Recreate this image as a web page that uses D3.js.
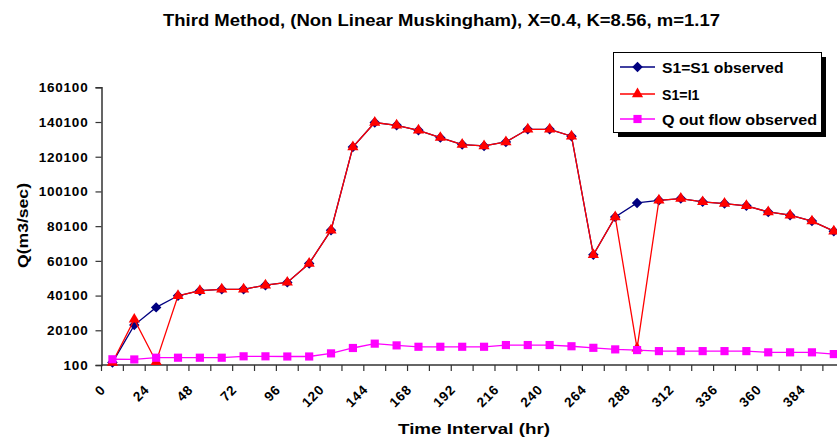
<!DOCTYPE html>
<html><head><meta charset="utf-8">
<script src="https://cdn.jsdelivr.net/npm/d3@7"></script>
<style>body{margin:0;background:#fff}svg{display:block;font-family:"Liberation Sans",Arial,sans-serif}</style>
</head><body><svg id="c" width="837" height="442"></svg>
<script>
const hours = [0,12,24,36,48,60,72,84,96,108,120,132,144,156,168,180,192,204,216,228,240,252,264,276,288,300,312,324,336,348,360,372,384,396];
const tickLabels = [0,24,48,72,96,120,144,168,192,216,240,264,288,312,336,360,384];
const yTicks = [100,20100,40100,60100,80100,100100,120100,140100,160100];
const s1Observed = [1500,23100,33300,40000,42900,43700,43700,46100,47700,58600,77800,125700,139800,138200,135300,131100,127100,126300,128600,135900,135900,131900,63600,85400,93500,95000,96000,94100,93100,91800,88300,86400,83000,77200];
const s1I1 = [1500,26400,2000,40000,42900,43700,43700,46100,47700,58600,77800,125700,139800,138200,135300,131100,127100,126300,128600,135900,135900,131900,63600,85400,9700,95000,96000,94100,93100,91800,88300,86400,83000,77200];
const qOut = [3400,3300,4300,4300,4300,4300,5100,5100,5000,5000,6800,9900,12400,11400,10600,10600,10600,10600,11600,11600,11600,10900,10000,9100,8700,8100,8100,8100,8100,8100,7400,7400,7400,6400];
const seriesNames = ["S1=S1 observed","S1=I1","Q out flow observed"];
const title = "Third Method, (Non Linear Muskingham), X=0.4, K=8.56, m=1.17";
const FONT = '"Liberation Sans", Arial, sans-serif';

const svg = d3.select("#c");
const x0 = 101.5, step = 21.86;
const x = d3.scaleBand().domain(hours).range([x0, x0 + step*hours.length]).padding(0);
const y = d3.scaleLinear().domain([100,160100]).range([365,87.3]);
const cx = h => x(h) + x.bandwidth()/2;

svg.append("text").attr("x",441.5).attr("y",25.5).attr("text-anchor","middle").attr("font-family",FONT)
  .attr("font-size",17).attr("font-weight","bold").attr("textLength",557).attr("lengthAdjust","spacingAndGlyphs").text(title);

// y axis
const gy = svg.append("g").attr("transform",`translate(${x0},0)`)
  .call(d3.axisLeft(y).tickValues(yTicks).tickFormat(d3.format("d")).tickSize(6).tickPadding(7));
gy.select(".domain").attr("stroke","#333").attr("stroke-width",1.5);
gy.selectAll(".tick line").attr("stroke","#333").attr("stroke-width",1.2);
gy.selectAll(".tick text").attr("font-size",13.5).attr("font-weight","bold").attr("letter-spacing","0.8px").attr("fill","#000").attr("font-family",FONT);

// x axis (ticks at category boundaries)
const gx = svg.append("g").attr("transform","translate(0,365)");
gx.append("path").attr("d",`M${x0},0H${x0+step*hours.length}`).attr("stroke","#333").attr("stroke-width",1.5).attr("fill","none");
gx.selectAll("line.t").data(hours).join("line").attr("class","t")
  .attr("x1",d=>x(d)).attr("x2",d=>x(d)).attr("y1",0).attr("y2",6).attr("stroke","#333").attr("stroke-width",1.2);
const lab = gx.selectAll("g.l").data(tickLabels).join("g").attr("class","l")
  .attr("transform",d=>`matrix(0.7071,-0.7071,0.7071,0.7071,${x(d)+5},25.5)`);
lab.append("text").attr("text-anchor","end").attr("font-family",FONT)
  .attr("font-size",13.5).attr("font-weight","bold").attr("letter-spacing","0.8px").text(d=>d);

svg.append("text").attr("x",474).attr("y",434).attr("text-anchor","middle").attr("font-family",FONT).attr("font-size",15.5).attr("font-weight","bold")
  .attr("textLength",152).attr("lengthAdjust","spacingAndGlyphs").text("Time Interval (hr)");
svg.append("text").attr("transform","translate(28,225.5) rotate(-90)").attr("text-anchor","middle").attr("font-family",FONT).attr("font-size",15.5)
  .attr("font-weight","bold").attr("textLength",85).attr("lengthAdjust","spacingAndGlyphs").text("Q(m3/sec)");

const line = d3.line().x((d,i)=>cx(hours[i])).y(d=>y(d));
const sym = {
  diamond: d3.symbol().type(d3.symbolDiamond2).size(70),
  triangle: d3.symbol().type(d3.symbolTriangle2).size(90),
  square: d3.symbol().type(d3.symbolSquare2).size(85)
};
const series = [
  {name:seriesNames[0], data:s1Observed, color:"#000080", sym:sym.diamond, w:1.3, tl:121.5},
  {name:seriesNames[1], data:s1I1, color:"#ff0000", sym:sym.triangle, w:1.3, tl:37.5},
  {name:seriesNames[2], data:qOut, color:"#ff00ff", sym:sym.square, w:1.3, tl:155}
];
series.forEach(s=>{
  const g = svg.append("g");
  g.append("path").datum(s.data).attr("d",line).attr("fill","none").attr("stroke",s.color).attr("stroke-width",s.w);
  g.selectAll("path.m").data(s.data).join("path").attr("class","m")
    .attr("transform",(d,i)=>`translate(${cx(hours[i])},${y(d)})`).attr("d",s.sym).attr("fill",s.color);
});

// legend
const lg = svg.append("g");
lg.append("rect").attr("x",618).attr("y",57).attr("width",208).attr("height",80).attr("fill","#000");
lg.append("rect").attr("x",613.5).attr("y",52.5).attr("width",208).attr("height",80).attr("fill","#fff").attr("stroke","#000").attr("stroke-width",1);
const rowsY = [67,94,119];
series.forEach((s,i)=>{
  lg.append("line").attr("x1",620).attr("x2",655).attr("y1",rowsY[i]).attr("y2",rowsY[i]).attr("stroke",s.color).attr("stroke-width",1.3);
  lg.append("path").attr("transform",`translate(637.5,${rowsY[i]})`).attr("d",s.sym).attr("fill",s.color);
  lg.append("text").attr("x",662).attr("y",rowsY[i]).attr("dy","0.36em").attr("font-family",FONT).attr("font-size",15.5).attr("font-weight","bold")
    .attr("textLength",s.tl).attr("lengthAdjust","spacingAndGlyphs").text(s.name);
});
</script></body></html>
